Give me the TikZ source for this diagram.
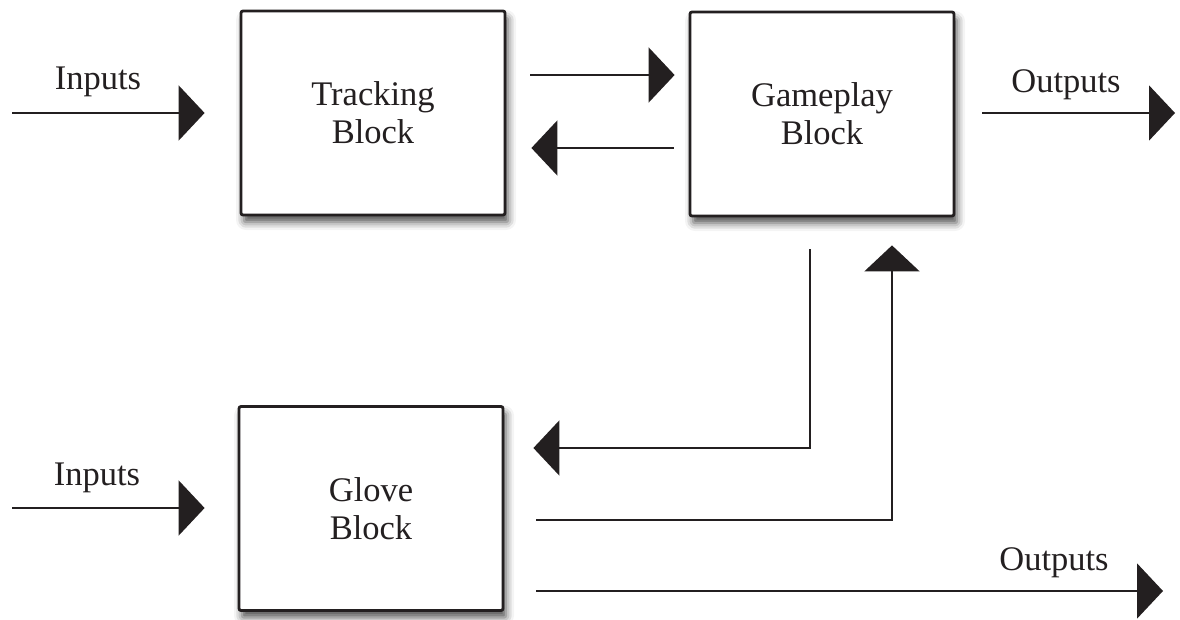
\documentclass[tikz,border=0pt]{standalone}
\usepackage{fontspec}
\setmainfont{Liberation Serif}
\usetikzlibrary{arrows.meta,shadows.blur}
\definecolor{ink}{HTML}{231F20}
\tikzset{
  block/.style={draw=ink, line width=2.8pt, rounded corners=2pt, fill=white,
    minimum width=264pt, minimum height=204pt, align=center,
    font=\fontsize{34.5}{38}\selectfont, text=ink,
    blur shadow={shadow xshift=3pt, shadow yshift=-7pt, shadow blur radius=8pt, shadow opacity=70}},
  link/.style={draw=ink, line width=2pt,
    -{Triangle[length=26pt, width=55pt, fill=ink]}},
  lbl/.style={anchor=base, inner sep=0pt, text=ink, font=\fontsize{34.5}{38}\selectfont}
}
\begin{document}
\begin{tikzpicture}[x=1pt, y=-1pt]
  \useasboundingbox (0,0) rectangle (1180,620);

  % blocks
  \node[block] (track) at (373,113) {Tracking\\Block};
  \node[block] (game)  at (822,114) {Gameplay\\Block};
  \node[block] (glove) at (371,508.5) {Glove\\Block};

  % free ends of the input / output lines
  \coordinate (in1)  at (12,113);
  \coordinate (in2)  at (12,508);
  \coordinate (out1) at (1175,113);
  \coordinate (out2) at (1163,591);

  % labels
  \node[lbl] (lin1)  at (98,90)   {Inputs};
  \node[lbl] (lin2)  at (97,485)  {Inputs};
  \node[lbl] (lout1) at (1066,93) {Outputs};
  \node[lbl] (lout2) at (1054,570) {Outputs};

  % inputs
  \draw[link, shorten >=35pt] (in1) -- (in1 -| track.west);
  \draw[link, shorten >=33pt] (in2) -- (in2 -| glove.west);

  % tracking <-> gameplay
  \draw[link, shorten <=24pt, shorten >=14pt]
    ([yshift=38pt]track.east) -- ([yshift=38pt]track.east -| game.west);
  \draw[link, shorten <=15pt, shorten >=25pt]
    ([yshift=-35pt]track.east -| game.west) -- ([yshift=-35pt]track.east);

  % gameplay output
  \draw[link, shorten <=27pt] (game.east |- out1) -- (out1);

  % gameplay -> glove
  \draw[link, shorten <=32pt, shorten >=29pt]
    ([xshift=-12pt]game.south) |- ([yshift=60.5pt]glove.east);

  % glove -> gameplay
  \draw[link, shorten <=32pt, shorten >=28pt]
    ([yshift=-11.5pt]glove.east) -| ([xshift=70pt]game.south);

  % glove output
  \draw[link, shorten <=32pt] (glove.east |- out2) -- (out2);
\end{tikzpicture}
\end{document}
